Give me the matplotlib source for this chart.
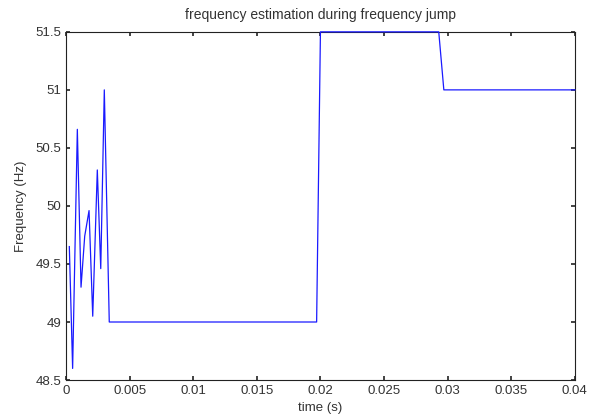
import numpy as np
import matplotlib.pyplot as plt

plt.rcParams['font.family'] = ['Liberation Sans', 'DejaVu Sans']

# time (s) and estimated frequency (Hz)
t = [0.00026, 0.00052, 0.00089, 0.00118, 0.00147, 0.00181, 0.0021,
     0.00246, 0.00273, 0.00301, 0.0034, 0.0197, 0.0200, 0.0293, 0.0297, 0.04]
f = [49.65, 48.60, 50.66, 49.30, 49.74, 49.96, 49.05,
     50.31, 49.46, 51.0, 49.0, 49.0, 51.5, 51.5, 51.0, 51.0]

xticks = [0, 0.005, 0.01, 0.015, 0.02, 0.025, 0.03, 0.035, 0.04]
xlabels = ['0', '0.005', '0.01', '0.015', '0.02', '0.025', '0.03', '0.035', '0.04']
yticks = [48.5, 49, 49.5, 50, 50.5, 51, 51.5]
ylabels = ['48.5', '49', '49.5', '50', '50.5', '51', '51.5']

fig = plt.figure(figsize=(5.91, 4.19), dpi=100)
ax = fig.add_axes([0.1117, 0.093, 0.861, 0.831])

ax.plot(t, f, color='#1a1aff', lw=0.9, clip_on=False, zorder=5)
ax.set_xlim(0, 0.04)
ax.set_ylim(48.5, 51.5)
ax.set_xticks(xticks)
ax.set_xticklabels(xlabels)
ax.set_yticks(yticks)
ax.set_yticklabels(ylabels)
ax.tick_params(direction='in', top=True, right=True, length=3, width=1.2,
               labelsize=9.5, colors='#222222', labelcolor='#333333')
for s in ax.spines.values():
    s.set_linewidth(0.8)
    s.set_color('#222222')

ax.set_title('frequency estimation during frequency jump', fontsize=10, color='#333333', pad=9)
ax.set_xlabel('time (s)', fontsize=9.5, color='#333333', labelpad=4)
ax.set_ylabel('Frequency (Hz)', fontsize=9.5, color='#333333', labelpad=6)

fig.savefig('out.png', dpi=100)
